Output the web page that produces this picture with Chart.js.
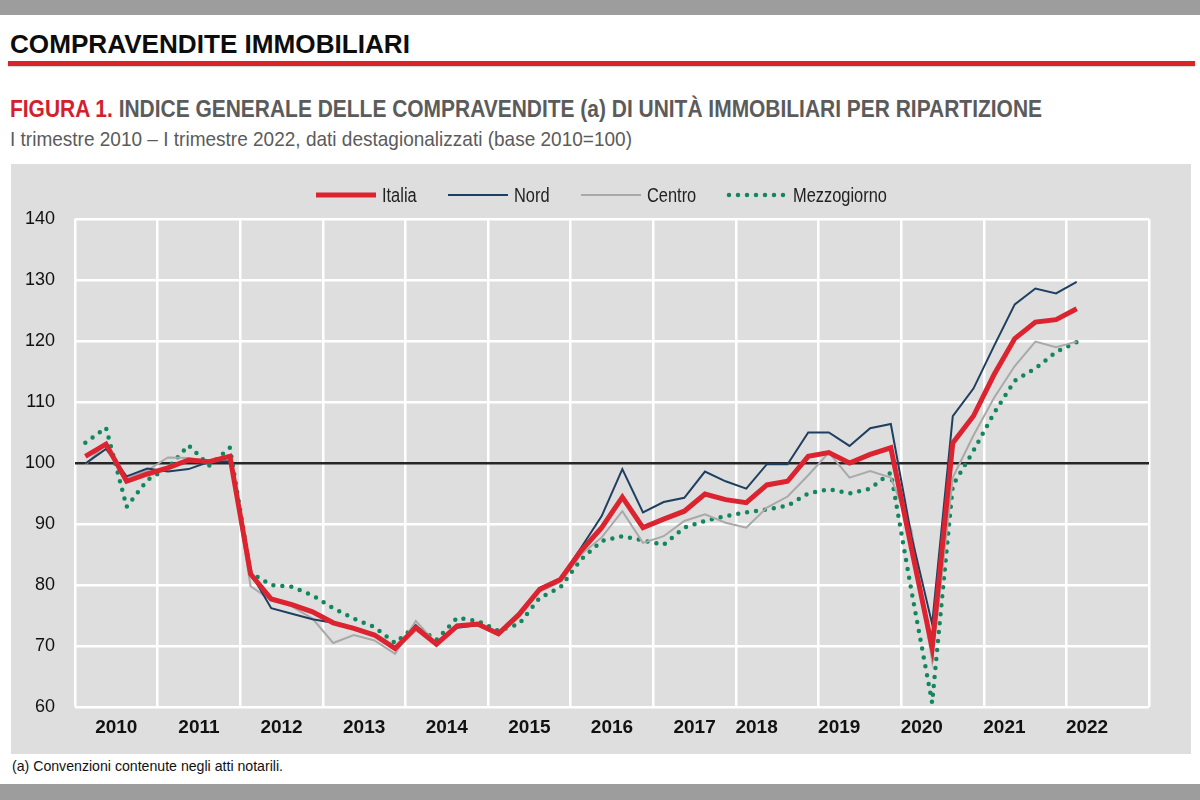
<!DOCTYPE html>
<html lang="it">
<head>
<meta charset="utf-8">
<title>Compravendite immobiliari</title>
<script src="https://cdn.jsdelivr.net/npm/chart.js@4.4.1/dist/chart.umd.min.js"></script>
<style>
  html, body { margin: 0; padding: 0; }
  body { width: 1200px; height: 800px; position: relative; background: #fff; overflow: hidden;
         font-family: 'Liberation Sans', Arial, sans-serif; }
  .bar { position: absolute; left: 0; width: 1200px; background: #9d9d9d; }
  .top { top: 0; height: 15px; }
  .bottom { top: 784px; height: 16px; }
  .fit { position: absolute; margin: 0; white-space: nowrap; transform-origin: 0 0; }
  .head { left: 10px; top: 30px; font-size: 25px; font-weight: bold; color: #0d0d0d; }
  .rule { position: absolute; left: 8px; top: 61px; width: 1187px; height: 5px; background: #d9252a;
          box-shadow: 0 1px 1px rgba(0,0,0,0.15); }
  .fig { left: 10px; top: 95px; font-size: 24px; font-weight: bold; color: #5b5b5b; }
  .fig span { color: #d3202c; }
  .sub { left: 10px; top: 127px; font-size: 21px; color: #5b5b5b; }
  .panel { position: absolute; left: 11px; top: 164px; width: 1180px; height: 590px; background: #dedede; }
  .note { left: 12px; top: 757px; font-size: 15px; color: #111; }
  #legend { position: absolute; left: 0; top: 20px; width: 1180px; height: 22px;
            display: flex; justify-content: center; align-items: center; }
  #legend .item { display: flex; align-items: center; margin: 0 15px; }
  #legend .txt { display: inline-block; font-size: 20px; color: #222; margin-left: 5px;
                 transform-origin: 0 50%; white-space: nowrap; }
</style>
</head>
<body>
<div class="bar top"></div>
<h1 class="fit head" data-w="400">COMPRAVENDITE IMMOBILIARI</h1>
<div class="rule"></div>
<p class="fit fig" data-w="1032"><span>FIGURA 1.</span> INDICE GENERALE DELLE COMPRAVENDITE (a) DI UNITÀ IMMOBILIARI PER RIPARTIZIONE</p>
<p class="fit sub" data-w="622">I trimestre 2010 – I trimestre 2022, dati destagionalizzati (base 2010=100)</p>
<div class="panel">
  <canvas id="chart" width="1180" height="590"></canvas>
  <div id="legend"></div>
</div>
<p class="fit note" data-w="271">(a) Convenzioni contenute negli atti notarili.</p>
<div class="bar bottom"></div>

<script>
// quarterly values, I trim. 2010 - I trim. 2022
const yearLabels = ['2010', '2011', '2012', '2013', '2014', '2015', '2016', '2017', '2018', '2019', '2020', '2021', '2022'];

const italia = [
  101.1, 103.1, 97.0, 98.2, 99.2, 100.5, 100.2, 101.1,
  81.8, 77.7, 76.8, 75.6, 73.8, 72.9, 71.8, 69.6,
  73.0, 70.3, 73.3, 73.6, 72.0, 75.2, 79.3, 80.9,
  85.6, 89.4, 94.4, 89.4, 90.8, 92.1, 94.9, 94.0,
  93.5, 96.4, 97.0, 101.1, 101.7, 100.0, 101.4, 102.5,
  86.0, 69.7, 103.3, 107.7, 114.5, 120.4, 123.1, 123.5,
  125.3,
];
const nord = [
  99.9, 102.3, 97.8, 99.1, 98.6, 99.0, 100.2, 100.3,
  82.0, 76.2, 75.3, 74.4, 73.8, 72.9, 71.9, 69.5,
  73.4, 70.2, 73.0, 73.4, 72.0, 75.3, 79.5, 81.1,
  86.1, 91.3, 99.0, 91.9, 93.6, 94.3, 98.6, 97.0,
  95.8, 99.8, 99.8, 105.0, 105.0, 102.8, 105.7, 106.4,
  88.0, 73.6, 107.7, 112.2, 119.2, 126.0, 128.6, 127.8,
  129.7,
];
const centro = [
  99.7, 103.2, 97.6, 98.8, 100.9, 100.8, 100.3, 101.3,
  79.8, 77.5, 76.5, 74.5, 70.5, 71.8, 70.9, 68.7,
  74.1, 70.4, 73.3, 73.5, 71.8, 74.7, 78.9, 80.5,
  85.0, 87.8, 92.1, 86.9, 88.0, 90.5, 91.6, 90.2,
  89.4, 92.7, 94.5, 98.0, 101.7, 97.6, 98.7, 97.6,
  89.0, 67.5, 97.6, 104.5, 110.7, 115.9, 119.9, 119.0,
  119.9,
];
const mezzogiorno = [
  103.3, 105.8, 92.8, 97.2, 99.2, 102.9, 99.6, 102.5,
  82.0, 80.0, 79.7, 78.3, 76.2, 74.5, 73.1, 70.5,
  73.3, 71.0, 74.6, 74.1, 72.5, 73.6, 77.9, 79.6,
  84.2, 87.2, 88.0, 87.3, 86.6, 89.4, 90.5, 91.3,
  91.9, 92.4, 93.0, 95.0, 95.7, 95.0, 95.8, 98.4,
  79.0, 60.7, 96.3, 102.0, 108.2, 113.5, 115.5, 118.2,
  119.8,
];

const toPoints = (arr) => arr.map((v, i) => ({ x: i, y: v }));
const font = "'Liberation Sans', Arial, sans-serif";

// squeeze the heading texts to the narrow width of the original
document.querySelectorAll('.fit').forEach((el) => {
  const w = el.getBoundingClientRect().width;
  el.style.transform = `scaleX(${Number(el.dataset.w) / w})`;
});

const ctx = document.getElementById('chart').getContext('2d');
const chart = new Chart(ctx, {
  type: 'line',
  data: {
    datasets: [
      {
        label: 'Italia',
        data: toPoints(italia),
        borderColor: '#dc2330',
        borderWidth: 5,
      },
      {
        label: 'Nord',
        data: toPoints(nord),
        borderColor: '#1e3f60',
        borderWidth: 2,
      },
      {
        label: 'Centro',
        data: toPoints(centro),
        borderColor: '#a9a9a9',
        borderWidth: 2,
      },
      {
        label: 'Mezzogiorno',
        data: toPoints(mezzogiorno),
        borderColor: '#13875c',
        borderWidth: 4.5,
        borderDash: [0, 9],
        borderCapStyle: 'round',
      },
    ],
  },
  options: {
    responsive: false,
    animation: false,
    elements: { point: { radius: 0 }, line: { tension: 0 } },
    layout: { padding: { top: 55, right: 42, left: 0, bottom: 0 } },
    plugins: {
      tooltip: { enabled: false },
      legend: { display: false },
    },
    scales: {
      x: {
        type: 'linear',
        min: -0.5,
        max: 51.5,
        afterBuildTicks: (axis) => {
          axis.ticks = [];
          for (let k = 0; k <= yearLabels.length; k += 1) axis.ticks.push({ value: 4 * k - 0.5 });
        },
        afterFit: (axis) => { axis.height = 0; },
        ticks: { display: false },
        grid: { color: '#ffffff', lineWidth: 2.5, drawTicks: false, z: -2 },
        border: { display: false },
      },
      xYears: {
        type: 'linear',
        position: 'bottom',
        min: -0.5,
        max: 51.5,
        afterBuildTicks: (axis) => {
          // labels from 2018 on sit one quarter to the left, as in the original
          axis.ticks = yearLabels.map((y, k) => ({ value: 4 * k + 1.5 - (k >= 8 ? 1 : 0) }));
        },
        afterFit: (axis) => { axis.height = 47; },
        ticks: {
          autoSkip: false,
          maxRotation: 0,
          padding: 9,
          color: '#111',
          font: { family: font, size: 19, weight: 'bold' },
          callback: (value, index) => yearLabels[index],
        },
        grid: { display: false, drawTicks: false },
        border: { display: false },
      },
      y: {
        min: 60,
        max: 140,
        afterFit: (axis) => { axis.width = 64; },
        ticks: {
          stepSize: 10,
          padding: 20,
          color: '#111',
          font: { family: font, size: 18 },
        },
        grid: {
          drawTicks: false,
          z: -1,
          color: (c) => (c.tick && c.tick.value === 100 ? '#262626' : '#ffffff'),
          lineWidth: 2.5,
        },
        border: { display: false },
      },
    },
  },
});

// legend built from the datasets, drawn as html so the dotted sample stays dotted
const legend = document.getElementById('legend');
chart.data.datasets.forEach((ds) => {
  const item = document.createElement('div');
  item.className = 'item';
  const dash = ds.borderDash ? `stroke-dasharray="${ds.borderDash.join(' ')}" stroke-linecap="round"` : '';
  item.innerHTML = `<svg width="62" height="10"><line x1="${ds.borderDash ? 3 : 1}" y1="5" x2="61" y2="5" stroke="${ds.borderColor}" stroke-width="${ds.borderWidth}" ${dash}/></svg>`;
  const txt = document.createElement('span');
  txt.className = 'txt';
  txt.textContent = ds.label;
  item.appendChild(txt);
  legend.appendChild(item);
  const w = txt.getBoundingClientRect().width;
  txt.style.transform = 'scaleX(0.82)';
  txt.style.marginRight = `${-0.18 * w}px`;
});
</script>
</body>
</html>
